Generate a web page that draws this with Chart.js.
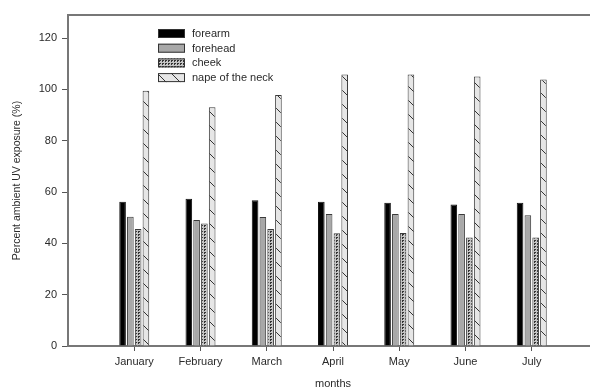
<!DOCTYPE html>
<html>
<head>
<meta charset="utf-8">
<script src="https://cdn.jsdelivr.net/npm/chart.js@4.4.1/dist/chart.umd.min.js"></script>
<style>
  html, body { margin: 0; padding: 0; background: #fff; }
  #wrap { width: 590px; height: 392px; overflow: hidden; position: relative; }
  canvas { display: block; }
</style>
</head>
<body>
<div id="wrap"><canvas id="chart" width="602" height="392"></canvas></div>
<script>
// Months, padded with empty slots so the first group sits one step in from the axis
const months = ['', 'January', 'February', 'March', 'April', 'May', 'June', 'July', ''];

// Percent of ambient UV reaching each body site
const forearm  = [null, 56.2, 57.4, 56.8, 56.2, 55.8, 55.1, 55.8, null];
const forehead = [null, 50.4, 49.1, 50.3, 51.4, 51.4, 51.4, 51.0, null];
const cheek    = [null, 45.6, 47.7, 45.6, 43.9, 44.0, 42.3, 42.3, null];
const nape     = [null, 99.5, 93.0, 97.8, 105.8, 105.8, 105.0, 103.9, null];

const yTicks = [0, 20, 40, 60, 80, 100, 120];

// Fill patterns
function stipple() {
  const c = document.createElement('canvas');
  c.width = 3; c.height = 3;
  const g = c.getContext('2d');
  g.fillStyle = '#c4c4c4'; g.fillRect(0, 0, 3, 3);
  g.fillStyle = '#333'; g.fillRect(0, 0, 2, 1); g.fillRect(0, 1, 1, 1);
  return g.createPattern(c, 'repeat');
}
function backslash() {
  const s = 14;
  const c = document.createElement('canvas');
  c.width = s; c.height = s;
  const g = c.getContext('2d');
  g.fillStyle = '#e6e6e6'; g.fillRect(0, 0, s, s);
  g.strokeStyle = '#333'; g.lineWidth = 1;
  g.beginPath();
  g.moveTo(-2, -2); g.lineTo(s + 2, s + 2);
  g.moveTo(-2 - s, -2); g.lineTo(2, s + 2);
  g.moveTo(s - 2, -2); g.lineTo(2 * s + 2, s + 2);
  g.stroke();
  return g.createPattern(c, 'repeat');
}

const ctx = document.getElementById('chart').getContext('2d');

// Legend drawn inside the plot, near its upper left
const insideLegend = {
  id: 'insideLegend',
  afterDraw(chart) {
    const g = chart.ctx;
    const area = chart.chartArea;
    const x0 = area.left + 90, y0 = area.top + 14;
    const rowH = 14.7, bw = 27, bh = 9;
    g.save();
    g.font = '11px "Liberation Sans", Arial, sans-serif';
    g.textBaseline = 'middle';
    chart.data.datasets.forEach((ds, i) => {
      const y = y0 + i * rowH;
      g.fillStyle = ds.backgroundColor;
      g.fillRect(x0, y, bw, bh);
      g.strokeStyle = '#333';
      g.lineWidth = 1;
      g.strokeRect(x0 + 0.5, y + 0.5, bw - 1, bh - 1);
      g.fillStyle = '#2a2a2a';
      g.fillText(ds.label, x0 + bw + 7, y + bh / 2 + 0.5);
    });
    g.restore();
  }
};

// Frame line along the top of the plot
const topFrame = {
  id: 'topFrame',
  afterDraw(chart) {
    const g = chart.ctx;
    const a = chart.chartArea;
    g.save();
    g.strokeStyle = '#777';
    g.lineWidth = 2;
    g.beginPath();
    g.moveTo(a.left, a.top);
    g.lineTo(chart.width, a.top);
    g.stroke();
    g.restore();
  }
};

const font = { family: '"Liberation Sans", Arial, sans-serif', size: 11 };

new Chart(ctx, {
  type: 'bar',
  data: {
    labels: months,
    datasets: [
      { label: 'forearm', data: forearm, backgroundColor: '#000', borderColor: '#111' },
      { label: 'forehead', data: forehead, backgroundColor: '#a8a8a8', borderColor: '#3a3a3a' },
      { label: 'cheek', data: cheek, backgroundColor: stipple(), borderColor: '#3a3a3a' },
      { label: 'nape of the neck', data: nape, backgroundColor: backslash(), borderColor: '#3a3a3a' }
    ]
  },
  options: {
    responsive: false,
    animation: false,
    devicePixelRatio: 1,
    datasets: {
      bar: { borderWidth: 1, categoryPercentage: 0.47, barPercentage: 0.85, skipNull: false }
    },
    layout: { padding: { left: 0, right: 0, top: 15, bottom: 0 } },
    plugins: {
      legend: { display: false },
      tooltip: { enabled: false }
    },
    scales: {
      x: {
        offset: false,
        grid: {
          display: true, offset: false, drawOnChartArea: false, drawTicks: true, tickLength: 5, lineWidth: 1,
          // tick marks only under the month labels
          color: (c) => (c.index > 0 && c.index < months.length - 1) ? '#555' : 'rgba(0,0,0,0)'
        },
        border: { display: true, color: '#777', width: 2 },
        ticks: { autoSkip: false, maxRotation: 0, color: '#2a2a2a', font: font, padding: 4 },
        title: { display: true, text: 'months', color: '#2a2a2a', font: font, padding: { top: 0, bottom: 1 } },
        afterFit(scale) { scale.height = 46; }
      },
      y: {
        min: 0,
        max: 129,
        afterBuildTicks(scale) { scale.ticks = yTicks.map(v => ({ value: v })); },
        grid: { display: true, drawOnChartArea: false, drawTicks: true, tickLength: 6, color: '#555', lineWidth: 1 },
        border: { display: true, color: '#777', width: 2 },
        ticks: { color: '#2a2a2a', font: font, padding: 5 },
        title: { display: true, text: 'Percent ambient UV exposure (%)', color: '#2a2a2a', font: { family: font.family, size: 10.5 }, padding: { top: 11, bottom: 0 } },
        afterFit(scale) { scale.width = 68; }
      }
    }
  },
  plugins: [insideLegend, topFrame]
});
</script>
</body>
</html>
